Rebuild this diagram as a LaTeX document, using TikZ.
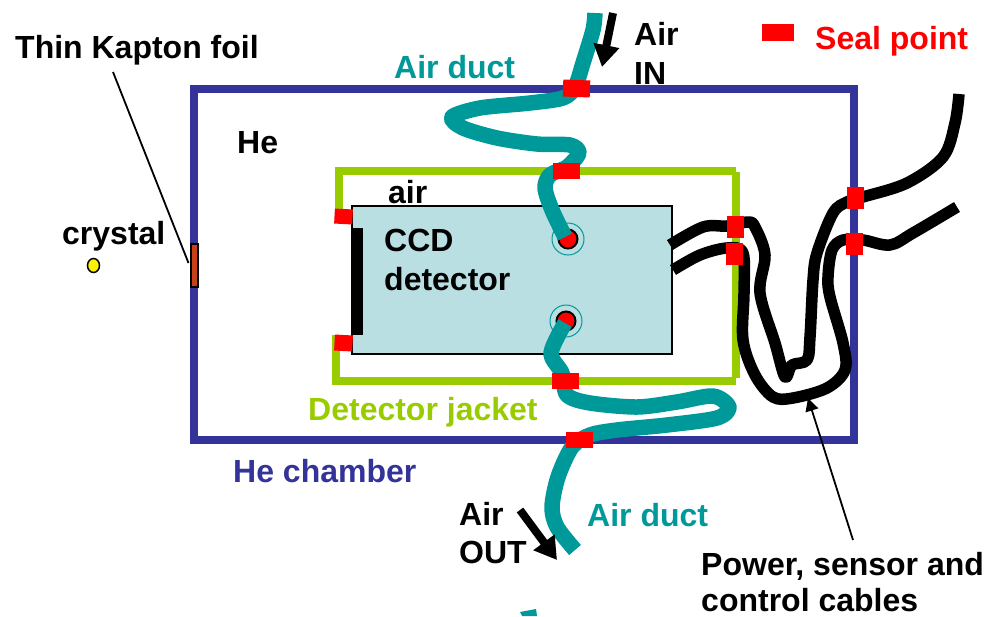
\documentclass[tikz,border=0pt]{standalone}
\usepackage{fontspec}
\setmainfont{Liberation Sans}
\usetikzlibrary{arrows.meta,shapes.geometric}
\definecolor{chamberc}{HTML}{333399}
\definecolor{jacketc}{HTML}{99CC00}
\definecolor{ductc}{HTML}{009999}
\definecolor{detc}{HTML}{B9DFE3}
\definecolor{foilc}{HTML}{C8401A}
\tikzset{
  lab/.style={anchor=base west,inner sep=0pt,font=\fontsize{32}{36}\selectfont\bfseries},
  seal/.style={fill=red,inner sep=0pt,minimum width=#1},
  seal/.default=27pt,
  wallj/.style={draw=jacketc,line width=8pt,line cap=butt},
  duct/.style={draw=ductc,line width=15.5pt,line join=round},
  cable/.style={draw=black,line width=11.5pt,line join=round},
  flow/.style={draw=black,line width=8pt,-{Triangle[width=25pt,length=22pt]}},
  leader/.style={draw=black,line width=1.8pt},
  hole/.style={circle,draw=ductc,line width=1pt,minimum size=32pt,inner sep=0pt},
  holein/.style={circle,draw=black,fill=red,line width=2pt,minimum size=19pt,inner sep=0pt}
}
\begin{document}
\begin{tikzpicture}[x=1pt,y=-1pt]
\useasboundingbox (0,0) rectangle (990,616);
% chamber
\draw[draw=chamberc,line width=8pt,miter limit=10] (194,89) rectangle (854,440);
% detector
\node[draw=black,fill=detc,line width=1.5pt,minimum width=320pt,minimum height=148pt,inner sep=0pt,anchor=north west] (det) at (351,205) {};
\fill[black] (351,228) rectangle (363,335);
% jacket
\draw[wallj] (338.5,213) -- (338.5,171) -- (736,171);
\draw[wallj] (736,172) -- (736,378);
\draw[wallj] (736,381) -- (336,381) -- (336,335);
% foil and crystal
\node[draw=black,fill=foilc,line width=2pt,minimum width=7pt,minimum height=43pt,inner sep=0pt] (foil) at (194.5,265) {};
\node[ellipse,draw=black,fill=yellow,line width=1.5pt,minimum width=12pt,minimum height=14pt,inner sep=0pt] (crystal) at (93.5,265.5) {};
% holes
\node[hole] (h1) at (568,239) {};
\node[holein] (h1i) at (568,239) {};
\node[hole] (h2) at (566,321) {};
\node[holein] (h2i) at (566,321) {};
% cables
\draw[cable] plot[smooth,tension=0.55] coordinates {(670,245) (703,227) (727,226) (748,222) (755,227) (765,255) (760,293) (775,343) (785,377) (792,365) (807,360) (810,337) (813,280) (817,253) (833,213) (847,202) (863,197) (907,183) (943,157) (955,123) (959,94)};
\draw[cable] plot[smooth,tension=0.55] coordinates {(673,270) (700,255) (727,248) (743,253) (744,293) (743,340) (755,375) (773,397) (793,398) (827,388) (845,370) (843,343) (830,297) (828,277) (832,250) (843,240) (863,240) (890,245) (913,233) (957,207)};
% ducts
\draw[duct] plot[smooth,tension=0.5] coordinates {(595,13) (593,30) (583,63) (575,87) (563,98) (530,103) (480,108) (452,117) (463,128) (497,138) (537,144) (570,145) (579,153) (567,167) (550,175) (545,188) (552,210) (565,237)};
\draw[duct] plot[smooth,tension=0.5] coordinates {(565,323) (551,353) (562,373) (567,395) (590,403) (637,407) (677,402) (713,396) (729,407) (717,418) (667,425) (617,430) (590,435) (572,447) (558,477) (552,507) (557,527) (575,550)};
\fill[ductc] (520,612) -- (536,609) -- (537,616) -- (522,616) -- cycle;
% seals
\node[seal=27pt,minimum height=17pt,rotate=-2] (s1) at (576.5,88.5) {};
\node[seal=27pt,minimum height=16pt] (s2) at (566.5,171) {};
\node[seal=27pt,minimum height=16pt] (s3) at (565.5,381) {};
\node[seal=27pt,minimum height=16pt] (s4) at (579,440) {};
\node[seal=18pt,minimum height=15pt,rotate=-3] (s5) at (343.5,216.5) {};
\node[seal=18pt,minimum height=16pt,rotate=-3] (s6) at (343.5,343) {};
\node[seal=17pt,minimum height=22pt] (s7) at (735.5,227) {};
\node[seal=17pt,minimum height=22pt] (s8) at (734.5,254) {};
\node[seal=17pt,minimum height=22pt] (s9) at (855.5,198) {};
\node[seal=17pt,minimum height=22pt] (s10) at (854.5,244) {};
\node[seal=32pt,minimum height=17pt] (s11) at (778,32.5) {};
% flow arrows
\coordinate (inA) at (613,13);
\coordinate (inB) at (602,67);
\draw[flow] (inA) -- (inB);
\coordinate (outA) at (520,510);
\coordinate (outB) at (557,560);
\draw[flow] (outA) -- (outB);
% labels
\node[lab] (t1) at (15,58) {Thin Kapton foil};
\node[lab] (t2) at (634,45) {Air};
\node[lab] (t3) at (634,84) {IN};
\node[lab,text=ductc] (t4) at (394,78) {Air duct};
\node[lab,text=red] (t5) at (815,49) {Seal point};
\node[lab] (t6) at (237,153) {He};
\node[lab] (t7) at (388,203) {air};
\node[lab] (t8) at (384,251) {CCD};
\node[lab] (t9) at (384,290) {detector};
\node[lab] (t10) at (62,244) {crystal};
\node[lab,text=jacketc] (t11) at (308,420) {Detector jacket};
\node[lab,text=chamberc] (t12) at (233,482) {He chamber};
\node[lab] (t13) at (459,525) {Air};
\node[lab] (t14) at (459,563) {OUT};
\node[lab,text=ductc] (t15) at (587,526) {Air duct};
\node[lab] (t16) at (701,575) {Power, sensor and};
\node[lab] (t17) at (701,611) {control cables};
% leaders
\coordinate (kapA) at (113,72);
\coordinate (kapB) at (188.5,263);
\draw[leader] (kapA) -- (kapB);
\coordinate (powA) at (853,540);
\coordinate (powB) at (808,398);
\draw[leader,-{Triangle[width=13pt,length=13pt]}] (powA) -- (powB);
\end{tikzpicture}
\end{document}
